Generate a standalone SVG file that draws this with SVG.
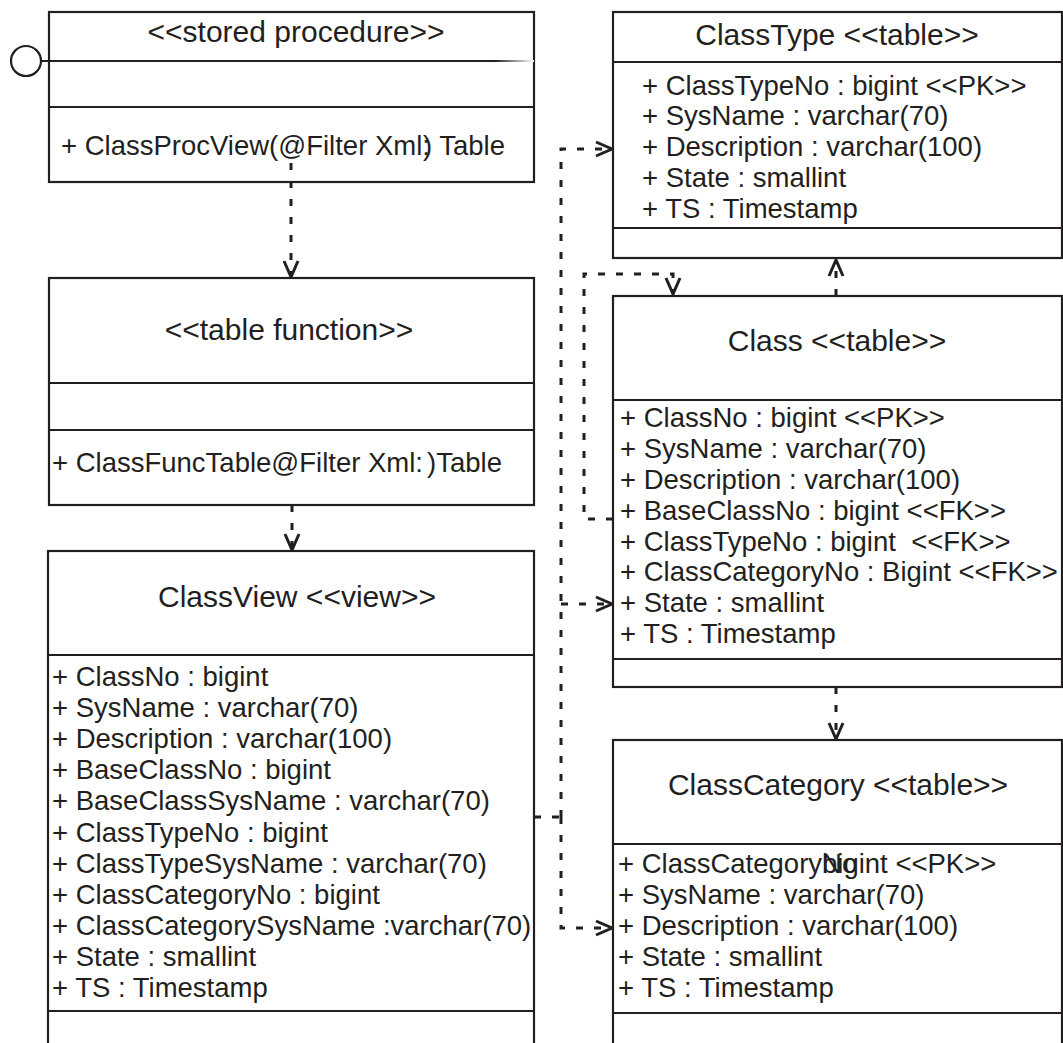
<svg xmlns="http://www.w3.org/2000/svg" width="1063" height="1043" viewBox="0 0 1063 1043">
<style>
.box{fill:#fff;stroke:#231f20;stroke-width:2.2}
.div{stroke:#231f20;stroke-width:2.2}
.t{font-family:"Liberation Sans",Arial,sans-serif;fill:#231f20}
.ti{font-size:30px;text-anchor:middle}
.at{font-size:27.5px;white-space:pre}
.con{fill:none;stroke:#231f20;stroke-width:3;stroke-dasharray:7 11}
</style>
<defs>
<marker id="arr" markerUnits="userSpaceOnUse" viewBox="-20 -10 22 20" markerWidth="22" markerHeight="20" refX="0" refY="0" orient="auto">
<path d="M-16,-7 L0,0 L-16,7" fill="none" stroke="#231f20" stroke-width="3"/>
</marker>
<linearGradient id="fade" gradientUnits="userSpaceOnUse" x1="41" y1="0" x2="534" y2="0">
<stop offset="0.92" stop-color="#231f20"/>
<stop offset="1" stop-color="#ffffff"/>
</linearGradient>
</defs>

<g id="stored-procedure">
<rect class="box" x="49" y="12" width="485" height="170"/>
<line x1="41" y1="61" x2="534" y2="61" stroke="url(#fade)" stroke-width="2.2"/>
<circle cx="26" cy="61" r="15" fill="#fff" stroke="#231f20" stroke-width="2.2"/>
<line class="div" x1="49" y1="107" x2="534" y2="107"/>
<text class="t ti" x="296" y="42">&lt;&lt;stored procedure&gt;&gt;</text>
<text class="t at" x="61" y="155">+ ClassProcView(@Filter Xml:<tspan dx="-7">)</tspan> Table</text>
</g>

<g id="table-function">
<rect class="box" x="49" y="278" width="485" height="227"/>
<line class="div" x1="49" y1="383" x2="534" y2="383"/>
<line class="div" x1="49" y1="430" x2="534" y2="430"/>
<text class="t ti" x="289" y="340">&lt;&lt;table function&gt;&gt;</text>
<text class="t at" x="52" y="472">+ ClassFuncTable@Filter Xml:<tspan dx="4">)</tspan>Table</text>
</g>

<g id="classview">
<rect class="box" x="48" y="551" width="486" height="520"/>
<line class="div" x1="48" y1="655" x2="534" y2="655"/>
<line class="div" x1="48" y1="1011" x2="534" y2="1011"/>
<text class="t ti" x="297" y="607">ClassView &lt;&lt;view&gt;&gt;</text>
<text class="t at" x="52" y="686">+ ClassNo : bigint</text>
<text class="t at" x="52" y="717">+ SysName : varchar(70)</text>
<text class="t at" x="52" y="748">+ Description : varchar(100)</text>
<text class="t at" x="52" y="779">+ BaseClassNo : bigint</text>
<text class="t at" x="52" y="810">+ BaseClassSysName : varchar(70)</text>
<text class="t at" x="52" y="842">+ ClassTypeNo : bigint</text>
<text class="t at" x="52" y="873">+ ClassTypeSysName : varchar(70)</text>
<text class="t at" x="52" y="904">+ ClassCategoryNo : bigint</text>
<text class="t at" x="52" y="935">+ ClassCategorySysName :varchar(70)</text>
<text class="t at" x="52" y="966">+ State : smallint</text>
<text class="t at" x="52" y="997">+ TS : Timestamp</text>
</g>

<g id="classtype">
<rect class="box" x="613" y="12" width="449" height="246"/>
<line class="div" x1="613" y1="62" x2="1062" y2="62"/>
<line class="div" x1="613" y1="228" x2="1062" y2="228"/>
<text class="t ti" x="837" y="45">ClassType &lt;&lt;table&gt;&gt;</text>
<text class="t at" x="642" y="94.5">+ ClassTypeNo : bigint &lt;&lt;PK&gt;&gt;</text>
<text class="t at" x="642" y="125.4">+ SysName : varchar(70)</text>
<text class="t at" x="642" y="156.3">+ Description : varchar(100)</text>
<text class="t at" x="642" y="187.2">+ State : smallint</text>
<text class="t at" x="642" y="218.1">+ TS : Timestamp</text>
</g>

<g id="class">
<rect class="box" x="613" y="296" width="449" height="391"/>
<line class="div" x1="613" y1="400" x2="1062" y2="400"/>
<line class="div" x1="613" y1="659" x2="1062" y2="659"/>
<text class="t ti" x="837" y="351">Class &lt;&lt;table&gt;&gt;</text>
<text class="t at" x="620" y="427">+ ClassNo : bigint &lt;&lt;PK&gt;&gt;</text>
<text class="t at" x="620" y="458">+ SysName : varchar(70)</text>
<text class="t at" x="620" y="489">+ Description : varchar(100)</text>
<text class="t at" x="620" y="520">+ BaseClassNo : bigint &lt;&lt;FK&gt;&gt;</text>
<text class="t at" x="620" y="551">+ ClassTypeNo : bigint  &lt;&lt;FK&gt;&gt;</text>
<text class="t at" x="620" y="581">+ ClassCategoryNo : Bigint &lt;&lt;FK&gt;&gt;</text>
<text class="t at" x="620" y="612">+ State : smallint</text>
<text class="t at" x="620" y="643">+ TS : Timestamp</text>
</g>

<g id="classcategory">
<rect class="box" x="613" y="740" width="449" height="330"/>
<line class="div" x1="613" y1="844" x2="1062" y2="844"/>
<line class="div" x1="613" y1="1013" x2="1062" y2="1013"/>
<text class="t ti" x="838" y="795">ClassCategory &lt;&lt;table&gt;&gt;</text>
<text class="t at" x="618" y="873">+ ClassCategoryNo</text>
<text class="t at" x="822" y="873">bigint &lt;&lt;PK&gt;&gt;</text>
<text class="t at" x="618" y="904">+ SysName : varchar(70)</text>
<text class="t at" x="618" y="935">+ Description : varchar(100)</text>
<text class="t at" x="618" y="966">+ State : smallint</text>
<text class="t at" x="618" y="997">+ TS : Timestamp</text>
</g>

<g id="connectors">
<path class="con" d="M291 163 V277" marker-end="url(#arr)"/>
<path class="con" d="M292 505 V550" marker-end="url(#arr)"/>
<path class="con" d="M534 817 H561"/>
<path class="con" d="M561 817 V149 H612" marker-end="url(#arr)"/>
<path class="con" d="M561 604 H612" marker-end="url(#arr)"/>
<path class="con" d="M561 817 V928 H612" marker-end="url(#arr)"/>
<path class="con" d="M613 519 H584 V274 H673 V294" marker-end="url(#arr)"/>
<path class="con" d="M836 296 V260" marker-end="url(#arr)"/>
<path class="con" d="M836 687 V739" marker-end="url(#arr)"/>
</g>
</svg>
